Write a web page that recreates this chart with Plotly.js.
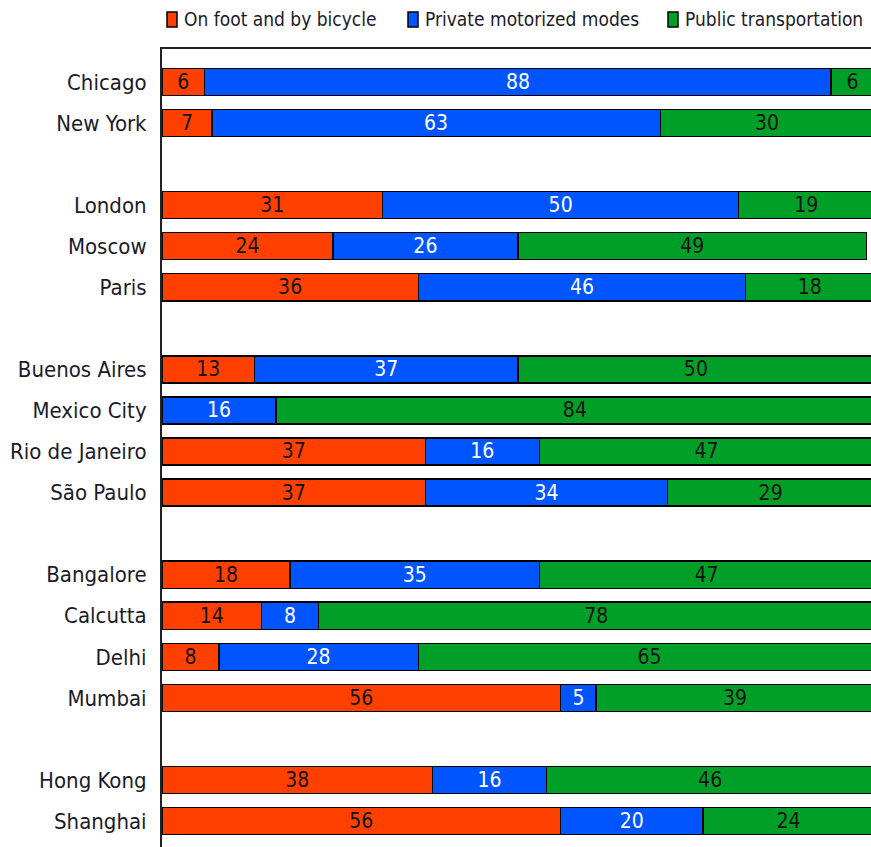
<!DOCTYPE html>
<html>
<head>
<meta charset="utf-8">
<script src="https://cdn.plot.ly/plotly-3.0.1.min.js"></script>
<style>
html,body{margin:0;padding:0;background:#fff;}
#chart{width:871px;height:847px;}
svg text{font-stretch:condensed !important;}
</style>
</head>
<body>
<div id="chart"></div>
<script>
const cities = ["Chicago","New York","London","Moscow","Paris","Buenos Aires","Mexico City","Rio de Janeiro","São Paulo","Bangalore","Calcutta","Delhi","Mumbai","Hong Kong","Shanghai"];
const onFoot = [6,7,31,24,36,13,null,37,37,18,14,8,56,38,56];
const privateMotor = [88,63,50,26,46,37,16,16,34,35,8,28,5,16,20];
const publicTransport = [6,30,19,49,18,50,84,47,29,47,78,65,39,46,24];
const seriesNames = ['On foot and by bicycle','Private motorized modes','Public transportation'];
const seriesColors = ['#FF4000','#0055FF','#00A028'];
// category order including blank spacer rows between regional groups
const categoryOrder = ["Chicago","New York"," ","London","Moscow","Paris","  ","Buenos Aires","Mexico City","Rio de Janeiro","São Paulo","   ","Bangalore","Calcutta","Delhi","Mumbai","    ","Hong Kong","Shanghai"];

const FONT = "'DejaVu Sans',sans-serif";
const TXT = '#1a1a2a';

function mk(i, vals, txtColor){
  return {
    type:'bar', orientation:'h', name:seriesNames[i],
    y:cities, x:vals,
    text: vals.map(v => v==null ? '' : String(v)),
    textposition:'inside', insidetextanchor:'middle', textangle:0,
    constraintext:'none',
    textfont:{family:FONT, size:21, color:txtColor},
    marker:{color:seriesColors[i], line:{color:'#000', width:1.5}},
    hoverinfo:'x+y+name', showlegend:false
  };
}

const data = [
  mk(0, onFoot, '#111'),
  mk(1, privateMotor, '#fff'),
  mk(2, publicTransport, '#111')
];

// manual legend (pixel positions converted to paper coordinates)
const L = 162, W = 709, T = 49, H = 798;
const px = v => (v - L) / W;
const py = v => (T + H - v) / H;
const legendX = [167, 408, 668];
const shapes = [], annotations = [];
seriesNames.forEach((n, i) => {
  shapes.push({type:'rect', xref:'paper', yref:'paper',
    x0:px(legendX[i]), x1:px(legendX[i]+10), y0:py(27), y1:py(12),
    fillcolor:seriesColors[i], line:{color:'#000', width:1.5}});
  annotations.push({xref:'paper', yref:'paper', x:px(legendX[i]+15), y:py(19),
    xanchor:'left', yanchor:'middle', showarrow:false, text:n,
    font:{family:FONT, size:19, color:TXT}});
});

const layout = {
  width:871, height:847,
  margin:{l:L, r:0, t:T, b:0, pad:0},
  barmode:'stack', bargap:0.34,
  paper_bgcolor:'#fff', plot_bgcolor:'#fff',
  font:{family:FONT, color:TXT},
  showlegend:false,
  shapes:shapes, annotations:annotations,
  xaxis:{range:[0,99.6], side:'top', showline:true, linecolor:'#222', linewidth:2,
         showgrid:false, zeroline:false, showticklabels:false, ticks:''},
  yaxis:{type:'category', categoryorder:'array', categoryarray:categoryOrder,
         range:[18.63,-0.8], showline:true, linecolor:'#222', linewidth:2,
         showgrid:false, zeroline:false, ticks:'', ticklabelstandoff:9,
         tickfont:{family:FONT, size:22, color:TXT}},
};
Plotly.newPlot('chart', data, layout, {displayModeBar:false, staticPlot:true});
</script>
</body>
</html>
